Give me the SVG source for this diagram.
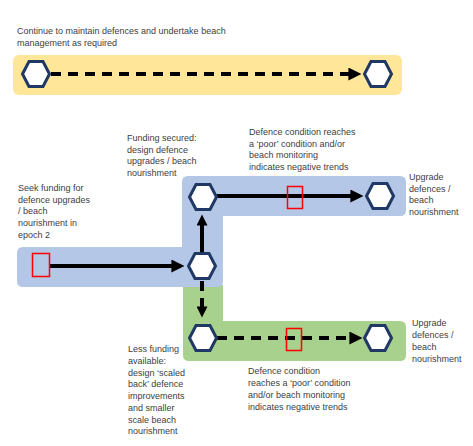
<svg xmlns="http://www.w3.org/2000/svg" width="473" height="446" viewBox="0 0 473 446">
<style>
text{font-family:"Liberation Sans",Arial,sans-serif;font-size:9px;fill:#404040}
.hex{fill:#fff;stroke:#1f3864;stroke-width:3;stroke-linejoin:miter}
.ln{stroke:#000;stroke-width:4;fill:none}
.dash{stroke-dasharray:10 7}
.red{fill:none;stroke:#ff0000;stroke-width:1.5}
</style>
<defs>
<polygon id="hx" class="hex" points="-13.5,0 -7,-12.5 7,-12.5 13.5,0 7,12.5 -7,12.5"/>
<marker id="ah" viewBox="0 0 10 10" refX="0.5" refY="5" markerUnits="userSpaceOnUse" markerWidth="13" markerHeight="13" orient="auto"><path d="M0,0 L10,5 L0,10 z" fill="#000"/></marker>
<marker id="av" viewBox="0 0 10 10" refX="0.5" refY="5" markerUnits="userSpaceOnUse" markerWidth="12" markerHeight="11" orient="auto"><path d="M0,0 L10,5 L0,10 z" fill="#000"/></marker>
</defs>
<g id="bands">
<rect x="13" y="55" width="389" height="40" rx="6" fill="#ffe699"/>
<path d="M183,285 H223 V321 H400 Q406,321 406,327 V355 Q406,361 400,361 H189 Q183,361 183,355 Z" fill="#a9d18e"/>
<path d="M188,176 H400 Q406,176 406,182 V210 Q406,216 400,216 H223 V281 Q223,287 217,287 H23 Q17,287 17,281 V253 Q17,247 23,247 H182 V182 Q182,176 188,176 Z" fill="#b4c7e7"/>
</g>
<g id="connectors">
<line class="ln dash" x1="51" y1="74" x2="349" y2="74" marker-end="url(#ah)"/>
<line class="ln" x1="50" y1="266" x2="172" y2="266" marker-end="url(#ah)"/>
<line class="ln" x1="202" y1="253" x2="202" y2="225" marker-end="url(#av)"/>
<line class="ln" x1="217" y1="196" x2="351" y2="196" marker-end="url(#ah)"/>
<line class="ln dash" x1="202" y1="281" x2="202" y2="307" marker-end="url(#av)"/>
<line class="ln dash" x1="217" y1="338" x2="350" y2="338" marker-end="url(#ah)"/>
</g>
<g id="n-yellow-start"><use href="#hx" x="36" y="74"/></g>
<g id="n-yellow-end"><use href="#hx" x="378" y="74"/></g>
<g id="n-seek"><rect class="red" x="32.5" y="253.5" width="17" height="23"/></g>
<g id="n-mid"><use href="#hx" x="202" y="266"/></g>
<g id="n-top"><use href="#hx" x="203" y="197"/></g>
<g id="n-top-trigger"><rect class="red" x="287.5" y="186.5" width="15" height="22"/></g>
<g id="n-top-end"><use href="#hx" x="380" y="196"/></g>
<g id="n-bottom"><use href="#hx" x="203" y="338"/></g>
<g id="n-bottom-trigger"><rect class="red" x="286.5" y="328.5" width="15" height="22"/></g>
<g id="n-bottom-end"><use href="#hx" x="378" y="338"/></g>
<g id="labels">
<text x="17" y="34">Continue to maintain defences and undertake beach</text>
<text x="17" y="46">management as required</text>
<text x="127" y="141">Funding secured:</text>
<text x="127" y="152.5">design defence</text>
<text x="127" y="164">upgrades / beach</text>
<text x="127" y="175.5">nourishment</text>
<text x="249" y="135">Defence condition reaches</text>
<text x="249" y="146.7">a ‘poor’ condition and/or</text>
<text x="249" y="158.3">beach monitoring</text>
<text x="249" y="170">indicates negative trends</text>
<text x="409" y="180">Upgrade</text>
<text x="409" y="191.7">defences /</text>
<text x="409" y="203.3">beach</text>
<text x="409" y="215">nourishment</text>
<text x="18" y="191">Seek funding for</text>
<text x="18" y="202.6">defence upgrades</text>
<text x="18" y="214.2">/ beach</text>
<text x="18" y="226">nourishment in</text>
<text x="18" y="237.6">epoch 2</text>
<text x="128" y="352.3">Less funding</text>
<text x="128" y="364">available:</text>
<text x="128" y="375.7">design ‘scaled</text>
<text x="128" y="387.4">back’ defence</text>
<text x="128" y="399.1">improvements</text>
<text x="128" y="410.8">and smaller</text>
<text x="128" y="422.5">scale beach</text>
<text x="128" y="434.2">nourishment</text>
<text x="248" y="374">Defence condition</text>
<text x="248" y="386">reaches a ‘poor’ condition</text>
<text x="248" y="398">and/or beach monitoring</text>
<text x="248" y="410">indicates negative trends</text>
<text x="412" y="326.3">Upgrade</text>
<text x="412" y="338.2">defences /</text>
<text x="412" y="350.1">beach</text>
<text x="412" y="362">nourishment</text>
</g>
</svg>
